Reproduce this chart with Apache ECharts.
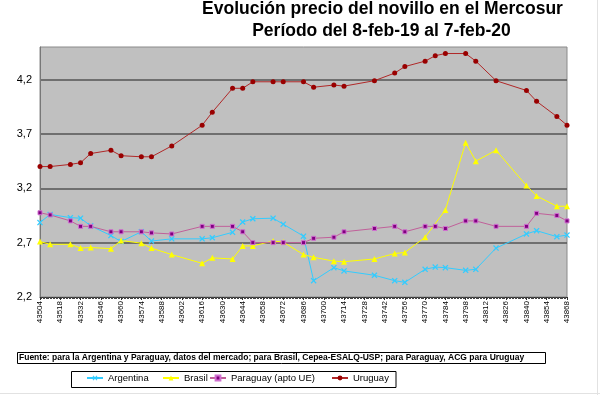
<!DOCTYPE html>
<html>
<head>
<meta charset="utf-8">
<script src="https://cdn.jsdelivr.net/npm/echarts@6/dist/echarts.min.js"></script>
<style>
html,body{margin:0;padding:0;background:#fff;}
#chart{width:600px;height:395px;}
</style>
</head>
<body>
<div id="chart"></div>
<script>
// Excel day serials (8-feb-19 .. 7-feb-20)
const dates = [43504, 43511, 43525, 43532, 43539, 43553, 43560, 43574, 43581, 43595,
  43616, 43623, 43637, 43644, 43651, 43665, 43672, 43686, 43693, 43707,
  43714, 43735, 43749, 43756, 43770, 43777, 43784, 43798, 43805, 43819,
  43840, 43847, 43861, 43868];
const argentina = [2.885, 2.96, 2.93, 2.925, 2.855, 2.765, 2.71, 2.80, 2.715, 2.735,
  2.735, 2.745, 2.795, 2.89, 2.92, 2.925, 2.87, 2.76, 2.35, 2.47,
  2.44, 2.40, 2.35, 2.335, 2.455, 2.475, 2.47, 2.445, 2.455, 2.65,
  2.78, 2.81, 2.755, 2.77];
const brasil = [2.71, 2.685, 2.685, 2.65, 2.655, 2.645, 2.72, 2.695, 2.65, 2.59,
  2.51, 2.56, 2.55, 2.67, 2.67, 2.715, 2.705, 2.59, 2.565, 2.53,
  2.525, 2.55, 2.60, 2.61, 2.75, null, 3.00, 3.62, 3.45, 3.55,
  3.225, 3.13, 3.035, 3.035];
const paraguay = [2.975, 2.955, 2.90, 2.85, 2.85, 2.80, 2.80, 2.80, 2.79, 2.78,
  2.85, 2.85, 2.85, 2.80, 2.70, 2.70, 2.70, 2.70, 2.74, 2.75,
  2.80, 2.83, 2.85, 2.80, 2.85, 2.85, 2.83, 2.90, 2.90, 2.85,
  2.85, 2.97, 2.95, 2.90];
const uruguay = [3.40, 3.40, 3.42, 3.435, 3.52, 3.55, 3.50, 3.49, 3.49, 3.59,
  3.78, 3.90, 4.12, 4.12, 4.18, 4.18, 4.18, 4.18, 4.13, 4.15,
  4.14, 4.19, 4.26, 4.32, 4.37, 4.42, 4.44, 4.44, 4.37, 4.19,
  4.10, 4.00, 3.86, 3.78];
const seriesNames = ['Argentina', 'Brasil', 'Paraguay (apto UE)', 'Uruguay'];
const titleLines = ['Evolución precio del novillo en el Mercosur', 'Período del 8-feb-19 al 7-feb-20'];
const sourceText = 'Fuente: para la Argentina y Paraguay, datos del mercado; para Brasil, Cepea-ESALQ-USP; para Paraguay, ACG para Uruguay';
const xMin = 43504, xMax = 43868, xStep = 14;
const yMin = 2.2, yMax = 4.5, yStep = 0.5;

function pairs(vals) { return dates.map((d, i) => [d, vals[i]]); }

const FONT = 'Liberation Sans, Arial, sans-serif';
const xSym = 'path://M0,1.5L1.5,0L5,3.5L8.5,0L10,1.5L6.5,5L10,8.5L8.5,10L5,6.5L1.5,10L0,8.5L3.5,5Z';
const legendLeft = [86, 162, 209, 331];

const chart = echarts.init(document.getElementById('chart'), null, {renderer: 'canvas'});
chart.setOption({
  animation: false,
  backgroundColor: '#fff',
  textStyle: {fontFamily: FONT},
  grid: {left: 40, right: 33, top: 47, bottom: 98, containLabel: false, show: true,
    backgroundColor: '#c0c0c0', borderColor: '#8a8a8a', borderWidth: 1},
  xAxis: {
    type: 'value', min: xMin, max: xMax, interval: xStep,
    axisLine: {show: true, onZero: false, lineStyle: {color: '#333', width: 1}},
    axisTick: {show: true, length: 3, lineStyle: {color: '#333'}},
    minorTick: {show: true, splitNumber: 14, length: 2, lineStyle: {color: '#444'}},
    splitLine: {show: false},
    axisLabel: {rotate: 90, fontSize: 8, margin: 4, color: '#000', fontFamily: FONT,
      formatter: v => String(v)}
  },
  yAxis: {
    type: 'value', min: yMin, max: yMax, interval: yStep,
    axisLine: {show: true, lineStyle: {color: '#777'}},
    axisTick: {show: false},
    splitLine: {show: true, showMaxLine: false, showMinLine: false, lineStyle: {color: '#555', width: 1.5}},
    axisLabel: {fontSize: 11, margin: 8, color: '#000', fontFamily: FONT, showMaxLabel: false,
      formatter: v => v.toFixed(1).replace('.', ',')}
  },
  legend: seriesNames.map((n, i) => ({
    left: legendLeft[i], top: 373, orient: 'horizontal', padding: 0,
    itemWidth: 16, itemHeight: 6,
    textStyle: {fontSize: 9.5, color: '#000', fontFamily: FONT},
    data: [n]
  })),
  series: [
    {name: seriesNames[0], type: 'line', data: pairs(argentina), symbol: xSym, symbolSize: 6,
      itemStyle: {color: '#33ccff'}, lineStyle: {color: '#33ccff', width: 1}},
    {name: seriesNames[1], type: 'line', data: pairs(brasil), connectNulls: true, symbol: 'triangle', symbolSize: 6,
      itemStyle: {color: '#ffff00'}, lineStyle: {color: '#ffff00', width: 1}},
    {name: seriesNames[2], type: 'line', data: pairs(paraguay), symbol: 'rect', symbolSize: 4,
      itemStyle: {color: '#800080', borderColor: '#d070d0', borderWidth: 1}, lineStyle: {color: '#c0609a', width: 1}},
    {name: seriesNames[3], type: 'line', data: pairs(uruguay), symbol: 'circle', symbolSize: 5,
      itemStyle: {color: '#990000'}, lineStyle: {color: '#b02828', width: 1}}
  ],
  graphic: [
    {type: 'text', x: 382.5, y: 9.5, style: {text: titleLines[0], align: 'center', verticalAlign: 'middle',
      font: 'bold 17.5px ' + FONT, fill: '#000'}},
    {type: 'text', x: 381.5, y: 31, style: {text: titleLines[1], align: 'center', verticalAlign: 'middle',
      font: 'bold 17.5px ' + FONT, fill: '#000'}},
    {type: 'rect', shape: {x: 17.5, y: 352.5, width: 528, height: 11}, style: {fill: '#fff', stroke: '#000', lineWidth: 1}},
    {type: 'text', x: 19, y: 358, style: {text: sourceText, align: 'left', verticalAlign: 'middle',
      font: 'bold 8.5px ' + FONT, fill: '#000'}},
    {type: 'rect', shape: {x: 71.5, y: 371.5, width: 324.5, height: 16}, style: {fill: '#fff', stroke: '#000', lineWidth: 1}},
    {type: 'line', shape: {x1: 597.5, y1: 0, x2: 597.5, y2: 395}, style: {stroke: '#e2e2e2', lineWidth: 1}},
    {type: 'line', shape: {x1: 0, y1: 393.5, x2: 600, y2: 393.5}, style: {stroke: '#e2e2e2', lineWidth: 1}}
  ]
});
</script>
</body>
</html>
